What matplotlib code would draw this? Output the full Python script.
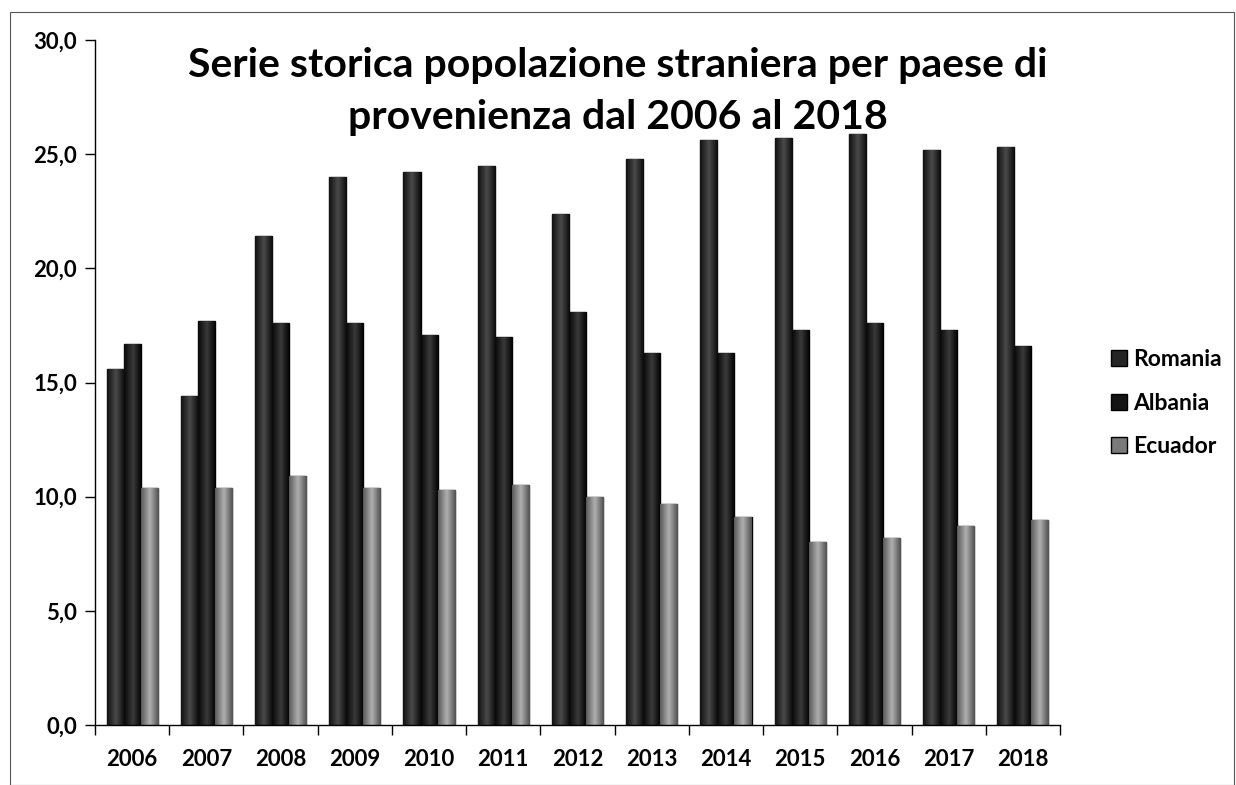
import matplotlib
matplotlib.use("Agg")
import matplotlib.pyplot as plt
import numpy as np
from matplotlib.patches import Rectangle
from matplotlib.colors import LinearSegmentedColormap
from matplotlib.ticker import FuncFormatter, FixedLocator

plt.rcParams['font.family'] = ['Lato', 'DejaVu Sans']

years = ["2006", "2007", "2008", "2009", "2010", "2011", "2012",
         "2013", "2014", "2015", "2016", "2017", "2018"]
romania = [15.6, 14.4, 21.4, 24.0, 24.2, 24.5, 22.4, 24.8, 25.6, 25.7, 25.9, 25.2, 25.3]
albania = [16.7, 17.7, 17.6, 17.6, 17.1, 17.0, 18.1, 16.3, 16.3, 17.3, 17.6, 17.3, 16.6]
ecuador = [10.4, 10.4, 10.9, 10.4, 10.3, 10.5, 10.0, 9.7, 9.1, 8.0, 8.2, 8.7, 9.0]
series_names = ["Romania", "Albania", "Ecuador"]
series_colors = ["#262626", "#141414", "#7a7a7a"]
series_grad = [("#111111", "#4a4a4a", "#0a0a0a"),
               ("#080808", "#3a3a3a", "#000000"),
               ("#5a5a5a", "#b0b0b0", "#505050")]

fig = plt.figure(figsize=(12.36, 7.85), dpi=100)
ax = fig.add_axes([95/1236, 1 - 725/785, (1060 - 95)/1236, (725 - 40)/785])

x = np.arange(len(years))
w = 0.23
grad = np.linspace(0, 1, 64).reshape(1, -1)
for i, (vals, name, col, gcols) in enumerate(zip([romania, albania, ecuador], series_names,
                                                  series_colors, series_grad)):
    bars = ax.bar(x + (i - 1) * w, vals, width=w, color=col, edgecolor="black",
                  linewidth=1.0, label=name, zorder=2)
    cmap = LinearSegmentedColormap.from_list(f"g{i}", [gcols[0], gcols[1], gcols[2]])
    for b in bars:
        x0, y0 = b.get_x(), b.get_y()
        im = ax.imshow(grad, cmap=cmap, aspect="auto", zorder=2.5,
                       extent=[x0, x0 + b.get_width(), y0, y0 + b.get_height()])
        im.set_clip_path(b)

ax.set_xlim(-0.5, len(years) - 0.5)
ax.set_ylim(0, 30)
ax.set_yticks(np.arange(0, 30.1, 5))
ax.yaxis.set_major_formatter(FuncFormatter(lambda v, p: f"{v:.1f}".replace(".", ",")))
ax.set_xticks(x)
ax.set_xticklabels(years)
ax.xaxis.set_minor_locator(FixedLocator(np.arange(-0.5, len(years), 1)))
ax.tick_params(axis="x", which="major", length=0, pad=17)
ax.tick_params(axis="x", which="minor", length=7, width=1, direction="out")
ax.tick_params(axis="y", length=7, width=1, direction="out", pad=6)
for lab in ax.get_xticklabels() + ax.get_yticklabels():
    lab.set_fontsize(16)
    lab.set_fontweight("bold")
for s in ["top", "right"]:
    ax.spines[s].set_visible(False)
ax.spines["left"].set_linewidth(1)
ax.spines["bottom"].set_linewidth(1)
ax.spines["left"].set_zorder(3)
ax.spines["bottom"].set_zorder(3)

fig.text(0.5, 1 - 92/785, "Serie storica popolazione straniera per paese di\nprovenienza dal 2006 al 2018",
         ha="center", va="center", fontsize=29.5, fontweight="bold", linespacing=1.5)

leg = fig.legend(loc="upper left", bbox_to_anchor=(1090/1236, 1 - 328/785), frameon=False,
                 handlelength=0.7, handleheight=0.7, handletextpad=0.3, labelspacing=1.0,
                 prop={"size": 16.5, "weight": "bold"})

fig.patches.append(Rectangle((10/1236, 0), 1 - 12/1236, 1 - 12/785, transform=fig.transFigure,
                             fill=False, edgecolor="#555555", linewidth=0.8))

fig.savefig("out.png", dpi=100)
